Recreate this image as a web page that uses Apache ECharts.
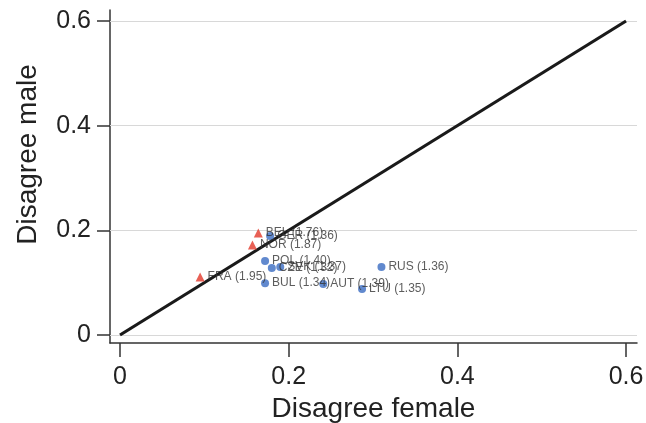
<!DOCTYPE html>
<html>
<head>
<meta charset="utf-8">
<script src="https://cdn.jsdelivr.net/npm/echarts@6/dist/echarts.min.js"></script>
<style>
html,body{margin:0;padding:0;background:#fff;}
#chart{width:646px;height:423px;}
</style>
</head>
<body>
<div id="chart"></div>
<script>
// Tick values
var xTicks = [0, 0.2, 0.4, 0.6];
var yTicks = [0, 0.2, 0.4, 0.6];

// Group: red triangles
var redLabels = ['FRA (1.95)', 'NOR (1.87)', 'BEL (1.76)'];
var redFemale = [0.095, 0.157, 0.164];
var redMale   = [0.111, 0.172, 0.195];

// Group: blue circles
var blueLabels = ['GER (1.36)', 'POL (1.40)', 'CZE (1.32)', 'SVK (1.37)', 'BUL (1.34)', 'AUT (1.39)', 'LTU (1.35)', 'RUS (1.36)'];
var blueFemale = [0.178, 0.172, 0.180, 0.190, 0.172, 0.241, 0.287, 0.310];
var blueMale   = [0.189, 0.1415, 0.128, 0.130, 0.099, 0.0975, 0.088, 0.130];

// Equality line
var diagX = [0, 0.6];
var diagY = [0, 0.6];

function pts(xs, ys, labels) {
  return xs.map(function (x, i) { return { value: [x, ys[i]], name: labels[i] }; });
}

var FONT = 'Liberation Sans, Arial, Helvetica, sans-serif';
var fmt = function (v) { return String(Math.round(v * 10) / 10); };

var chart = echarts.init(document.getElementById('chart'), null, { renderer: 'canvas' });
chart.setOption({
  animation: false,
  backgroundColor: '#ffffff',
  grid: { left: 110, right: 9, top: 10, bottom: 80, containLabel: false, outerBoundsMode: 'none' },
  xAxis: {
    type: 'value',
    min: -0.01186, max: 0.613,
    name: 'Disagree female',
    nameLocation: 'middle',
    nameGap: 50,
    nameTextStyle: { fontFamily: FONT, fontSize: 28, color: '#222' },
    axisLine: { show: true, onZero: false, lineStyle: { color: '#333', width: 1.5 } },
    axisTick: { show: true, customValues: xTicks, length: 14, lineStyle: { color: '#333', width: 1.5 } },
    axisLabel: { customValues: xTicks, formatter: fmt, margin: 22, fontFamily: FONT, fontSize: 25, color: '#222' },
    splitLine: { show: false }
  },
  yAxis: {
    type: 'value',
    min: -0.0153, max: 0.621,
    name: 'Disagree male',
    nameLocation: 'middle',
    nameGap: 68,
    nameTextStyle: { fontFamily: FONT, fontSize: 28, color: '#222', padding: [0, 0, 0, 44] },
    axisLine: { show: true, onZero: false, lineStyle: { color: '#333', width: 1.5 } },
    axisTick: { show: true, customValues: yTicks, length: 13, lineStyle: { color: '#333', width: 1.5 } },
    axisLabel: { customValues: yTicks, formatter: fmt, margin: 19, fontFamily: FONT, fontSize: 25, color: '#222' },
    splitLine: { show: false }
  },
  series: [
    {
      type: 'line',
      data: diagX.map(function (x, i) { return [x, diagY[i]]; }),
      showSymbol: false,
      symbol: 'none',
      lineStyle: { color: '#1a1a1a', width: 3.2 },
      z: 3,
      markLine: {
        silent: true,
        symbol: 'none',
        label: { show: false },
        lineStyle: { color: '#d8d8d8', width: 1.2, type: 'solid' },
        data: yTicks.map(function (v) { return { yAxis: v }; }),
        z: 1
      }
    },
    {
      type: 'scatter',
      data: pts(blueFemale, blueMale, blueLabels),
      symbol: 'circle',
      symbolSize: 8,
      itemStyle: { color: '#3a6cc2' },
      label: { show: true, position: 'right', distance: 3, formatter: '{b}', fontFamily: FONT, fontSize: 12, color: '#333' },
      z: 4
    },
    {
      type: 'scatter',
      data: pts(redFemale, redMale, redLabels),
      symbol: 'triangle',
      symbolSize: 9,
      itemStyle: { color: '#e2382b' },
      label: { show: true, position: 'right', distance: 3, formatter: '{b}', fontFamily: FONT, fontSize: 12, color: '#333' },
      z: 4
    }
  ]
});
</script>
</body>
</html>
